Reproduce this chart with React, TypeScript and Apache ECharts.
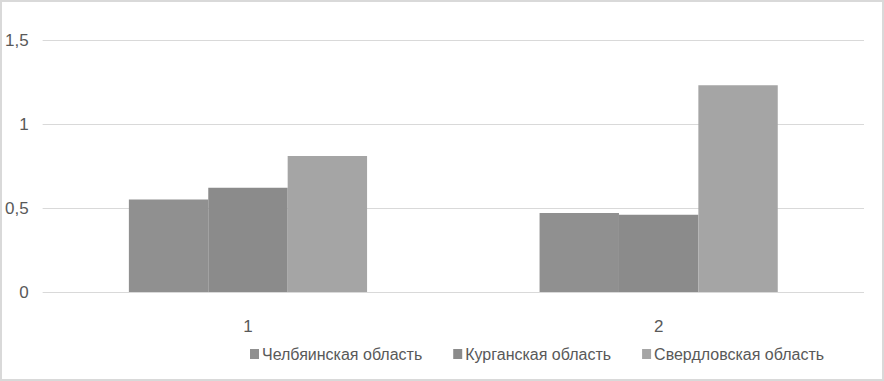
import React, { useEffect, useRef } from "react";
import * as echarts from "echarts";

const categories = ["1", "2"];
const seriesNames = ["Челбяинская область", "Курганская область", "Свердловская область"];
const chelyabinsk = [0.55, 0.47];
const kurgan = [0.62, 0.46];
const sverdlovsk = [0.81, 1.23];
const colors = ["#909090", "#8b8b8b", "#a5a5a5"];

export default function App() {
  const ref = useRef<HTMLDivElement>(null);
  useEffect(() => {
    const chart = echarts.init(ref.current!, null, { renderer: "svg" });
    const font = "'Liberation Sans Narrow', 'Liberation Sans', sans-serif";
    const values = [chelyabinsk, kurgan, sverdlovsk];
    chart.setOption({
      animation: false,
      textStyle: { fontFamily: font },
      grid: { left: 40, right: 18, top: 38, bottom: 87 },
      legend: {
        bottom: 12,
        left: 243,
        itemWidth: 9,
        itemHeight: 10,
        itemGap: 31,
        icon: "rect",
        textStyle: { fontFamily: font, fontSize: 16, color: "#595959", padding: [0, 0, 0, -2] },
        data: seriesNames,
      },
      xAxis: {
        type: "category",
        data: categories,
        axisLine: { show: false },
        axisTick: { show: false },
        axisLabel: { fontFamily: font, fontSize: 17, color: "#595959", margin: 26 },
      },
      yAxis: {
        type: "value",
        min: 0,
        max: 1.5,
        interval: 0.5,
        axisLabel: {
          fontFamily: font,
          fontSize: 17,
          color: "#595959",
          margin: 14,
          formatter: (v: number) => String(v).replace(".", ","),
        },
        splitLine: { lineStyle: { color: "#d9d9d9", width: 1 } },
      },
      series: seriesNames.map((name, i) => ({
        name,
        type: "bar",
        data: values[i],
        barGap: "0%",
        barCategoryGap: "42%",
        itemStyle: { color: colors[i] },
      })),
    });
    return () => chart.dispose();
  }, []);
  return (
    <div
      style={{
        position: "fixed",
        left: 0,
        top: 0,
        width: 884,
        height: 381,
        boxSizing: "border-box",
        border: "2px solid #d9d9d9",
        background: "#fff",
      }}
    >
      <div ref={ref} style={{ width: 880, height: 377 }} />
    </div>
  );
}
